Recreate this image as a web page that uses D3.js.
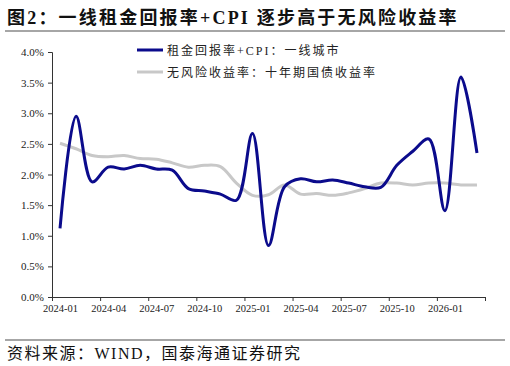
<!DOCTYPE html>
<html>
<head>
<meta charset="utf-8">
<script src="https://cdn.jsdelivr.net/npm/d3@7/dist/d3.min.js"></script>
<style>
body { margin: 0; background: #fff; }
svg text { font-family: "Liberation Serif", "Noto Sans CJK SC", serif; }
</style>
</head>
<body>
<svg id="chart" width="510" height="366"></svg>
<script>
// months on the category axis
const months = ["2024-01","2024-02","2024-03","2024-04","2024-05","2024-06","2024-07","2024-08","2024-09",
  "2024-10","2024-11","2024-12","2025-01","2025-02","2025-03","2025-04","2025-05","2025-06","2025-07",
  "2025-08","2025-09","2025-10","2025-11","2025-12","2026-01","2026-02","2026-03"];
// 租金回报率+CPI：一线城市 (%)
const rentCpi = [1.12, 2.95, 1.88, 2.12, 2.09, 2.15, 2.09, 2.07, 1.77, 1.73, 1.68, 1.58, 2.67, 0.84,
  1.80, 1.93, 1.88, 1.91, 1.86, 1.80, 1.79, 2.15, 2.38, 2.58, 1.41, 3.59, 2.35];
// 无风险收益率：十年期国债收益率 (%)
const bond10y = [2.51, 2.42, 2.31, 2.29, 2.31, 2.26, 2.25, 2.19, 2.12, 2.15, 2.13, 1.86, 1.66, 1.67,
  1.83, 1.68, 1.69, 1.66, 1.70, 1.77, 1.86, 1.86, 1.83, 1.86, 1.86, 1.83, 1.83];
const yTicks = [0, 0.5, 1, 1.5, 2, 2.5, 3, 3.5, 4];
const labelIdx = [0, 3, 6, 9, 12, 15, 18, 21, 24];

const svg = d3.select("#chart");
const plotL = 52, plotR = 485, plotT = 52, plotB = 297;

// title + rules
svg.append("text").attr("x", 7).attr("y", 24)
  .attr("font-size", 18).attr("font-weight", "bold").attr("fill", "#111")
  .attr("letter-spacing", 2.2)
  .text("图2：一线租金回报率+CPI 逐步高于无风险收益率");
svg.append("line").attr("x1", 5).attr("x2", 505).attr("y1", 31).attr("y2", 31)
  .attr("stroke", "#888").attr("stroke-width", 1.5);
svg.append("line").attr("x1", 5).attr("x2", 505).attr("y1", 340).attr("y2", 340)
  .attr("stroke", "#888").attr("stroke-width", 1.5);
svg.append("text").attr("x", 7).attr("y", 359)
  .attr("font-size", 16).attr("fill", "#111").attr("letter-spacing", 1.5)
  .text("资料来源：WIND，国泰海通证券研究");

const x = d3.scaleBand().domain(months).range([plotL, plotR]).padding(0);
const xl = d3.scaleLinear().domain([0, months.length]).range([plotL, plotR]);
const y = d3.scaleLinear().domain([0, 4]).range([plotB, plotT]);
const cx = i => x(months[i]) + x.bandwidth() / 2;

// y axis
const ya = svg.append("g").attr("transform", `translate(${plotL},0)`)
  .call(d3.axisLeft(y).tickValues(yTicks).tickSize(4).tickFormat(d => d.toFixed(1) + "%"));
ya.selectAll("text").attr("font-size", 11).attr("fill", "#222").attr("x", -8);

// x axis
const xa = svg.append("g").attr("transform", `translate(0,${plotB})`)
  .call(d3.axisBottom(xl).tickValues(d3.range(0, months.length + 1, 3)).tickSize(4)
    .tickFormat(d => labelIdx.includes(d) ? months[d] : ""));
xa.selectAll("text").attr("font-size", 10.5).attr("fill", "#222")
  .attr("dx", x.bandwidth() / 2).attr("dy", "0.75em");
svg.selectAll(".domain, .tick line").attr("stroke", "#333");

const line = d3.line().x((d, i) => cx(i)).y(d => y(d)).curve(d3.curveCatmullRom.alpha(0.5));

svg.append("path").datum(bond10y).attr("d", line)
  .attr("fill", "none").attr("stroke", "#c8c8c8").attr("stroke-width", 3);
svg.append("path").datum(rentCpi).attr("d", line)
  .attr("fill", "none").attr("stroke", "#0b0b8c").attr("stroke-width", 3);

// legend
const legend = [
  { name: "租金回报率+CPI：一线城市", color: "#0b0b8c", yy: 50 },
  { name: "无风险收益率：十年期国债收益率", color: "#c8c8c8", yy: 72 }
];
legend.forEach(l => {
  svg.append("line").attr("x1", 137).attr("x2", 163).attr("y1", l.yy).attr("y2", l.yy)
    .attr("stroke", l.color).attr("stroke-width", 3);
  svg.append("text").attr("x", 167).attr("y", l.yy + 4.5)
    .attr("font-size", 12).attr("fill", "#222").attr("letter-spacing", 2)
    .text(l.name);
});
</script>
</body>
</html>
